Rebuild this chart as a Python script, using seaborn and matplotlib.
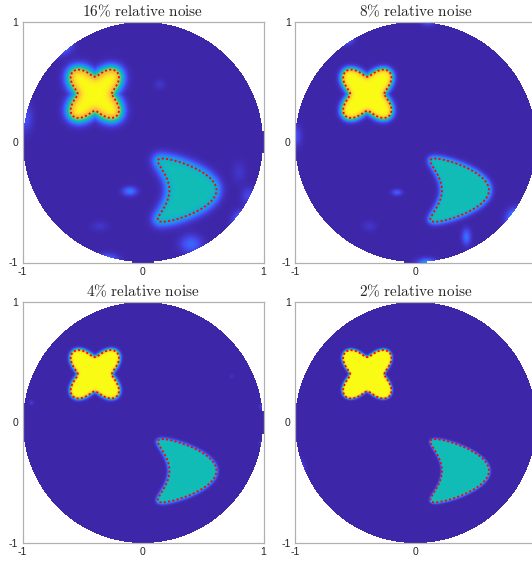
import matplotlib
matplotlib.use('Agg')
import matplotlib.pyplot as plt
import numpy as np
import pandas as pd
import seaborn as sns
from matplotlib.colors import LinearSegmentedColormap
from matplotlib.path import Path

# panels, in reading order
titles = ['16% relative noise', '8% relative noise', '4% relative noise', '2% relative noise']
blur = [0.020, 0.012, 0.007, 0.005]          # width of the smeared edge of each reconstruction

# star inclusion (yellow): centre, mean radius, arm amplitude, value
star_centre = (-0.40, 0.40)
star_r0 = 0.200
star_amp = 0.058
star_value = 1.0

# kite inclusion (teal): centre, x/y scale, value
kite_centre = (0.385, -0.40)
kite_scale = (0.195, 0.175)
kite_value = 0.5

# noise artefacts: x, y, sigma_x, sigma_y, amplitude
blobs = [
    [(-0.11, -0.41, 0.040, 0.025, 0.22), (0.40, -0.85, 0.06, 0.05, 0.18),
     (-0.70, 0.82, 0.06, 0.05, 0.45), (-0.30, -1.00, 0.06, 0.04, 0.30),
     (0.84, -0.66, 0.05, 0.05, 0.40), (0.14, 0.48, 0.03, 0.03, 0.05),
     (0.80, -0.25, 0.04, 0.06, 0.05), (-0.98, 0.20, 0.04, 0.08, 0.12),
     (-0.36, -0.70, 0.05, 0.03, 0.05), (0.88, -0.45, 0.04, 0.05, 0.10)],
    [(-0.15, -0.42, 0.030, 0.018, 0.15), (0.42, -0.79, 0.025, 0.045, 0.20),
     (0.84, -0.64, 0.05, 0.05, 0.45), (-0.58, 0.86, 0.04, 0.03, 0.28),
     (0.09, -1.02, 0.05, 0.03, 0.40), (0.10, 1.02, 0.04, 0.03, 0.20),
     (-0.99, 0.05, 0.03, 0.06, 0.12), (-0.38, -0.70, 0.04, 0.03, 0.05)],
    [(-0.93, 0.16, 0.015, 0.015, 0.06), (0.99, 0.13, 0.015, 0.015, 0.08),
     (0.99, -0.17, 0.015, 0.015, 0.08), (0.74, 0.38, 0.012, 0.012, 0.04)],
    [(-0.98, -0.40, 0.03, 0.05, 0.45)],
]

parula_stops = [
    (0.00, (0.242, 0.150, 0.660)), (0.10, (0.275, 0.270, 0.925)),
    (0.20, (0.190, 0.450, 0.985)), (0.30, (0.120, 0.580, 0.905)),
    (0.40, (0.060, 0.670, 0.835)), (0.50, (0.070, 0.740, 0.710)),
    (0.60, (0.260, 0.780, 0.530)), (0.70, (0.560, 0.790, 0.340)),
    (0.80, (0.830, 0.760, 0.240)), (0.90, (0.990, 0.740, 0.230)),
    (1.00, (0.977, 0.984, 0.081)),
]
parula = LinearSegmentedColormap.from_list('parula', parula_stops)

N = 240
xs = (np.arange(N) + 0.5) / N * 2 - 1
X, Y = np.meshgrid(xs, -xs)          # row 0 is the top (y = +1)
disk = X ** 2 + Y ** 2 <= 1.0

t = np.linspace(0, 2 * np.pi, 400)
rs = star_r0 - star_amp * np.cos(4 * t)
star_x = star_centre[0] + rs * np.cos(t)
star_y = star_centre[1] + rs * np.sin(t)
kite_x = kite_centre[0] + kite_scale[0] * (np.cos(t) + 0.65 * np.cos(2 * t) - 0.65 + 0.15)
kite_y = kite_centre[1] + kite_scale[1] * 1.5 * np.sin(t)


def signed_dist(bx, by):
    pts = np.column_stack([X.ravel(), Y.ravel()])
    inside = Path(np.column_stack([bx, by])).contains_points(pts).reshape(X.shape)
    d = np.full(X.shape, np.inf)
    for px, py in zip(bx, by):
        d = np.minimum(d, np.hypot(X - px, Y - py))
    return np.where(inside, -d, d)


sd_star = signed_dist(star_x, star_y)
sd_kite = signed_dist(kite_x, kite_y)


def to_cells(x, y):
    return (x + 1) / 2 * N, (1 - y) / 2 * N


sns.set_style('white')
plt.rcParams['font.family'] = ['Liberation Sans', 'DejaVu Sans']
plt.rcParams['mathtext.fontset'] = 'cm'

fig = plt.figure(figsize=(5.32, 5.61), dpi=100)
W, H = 532, 561
lefts = [22.5, 295.0]
tops = [21.5, 302.0]
size = 241.0

for k in range(4):
    ax = fig.add_axes([lefts[k % 2] / W, (H - tops[k // 2] - size) / H, size / W, size / H])
    w = blur[k]
    field = (star_value / (1 + np.exp((sd_star - 1.2 * w) / w))
             + kite_value / (1 + np.exp((sd_kite - 1.2 * w) / w)))
    for bx, by, sx, sy, a in blobs[k]:
        field += a * np.exp(-0.5 * (((X - bx) / sx) ** 2 + ((Y - by) / sy) ** 2))
    df = pd.DataFrame(np.clip(field, 0, 1))
    sns.heatmap(df, mask=~disk, cmap=parula, vmin=0, vmax=1, cbar=False, ax=ax,
                xticklabels=False, yticklabels=False, square=False)
    for bx, by in [(star_x, star_y), (kite_x, kite_y)]:
        cx, cy = to_cells(bx, by)
        ax.plot(cx, cy, color='red', lw=1.3, linestyle=(0, (1.1, 1.3)))
    ax.set_xlim(0, N)
    ax.set_ylim(N, 0)
    if k % 2 == 0:
        ax.set_xticks([0, N / 2, N])
        ax.set_xticklabels(['-1', '0', '1'], rotation=0)
    else:
        ax.set_xticks([0, N / 2])
        ax.set_xticklabels(['-1', '0'], rotation=0)
    ax.set_yticks([N, N / 2, 0])
    ax.set_yticklabels(['-1', '0', '1'], rotation=0)
    ax.tick_params(length=0, labelsize=7.5, labelcolor='#262626', pad=3)
    for s in ax.spines.values():
        s.set_visible(True)
        s.set_color('#b0b0b0')
        s.set_linewidth(0.9)
    txt = titles[k].replace('%', r'\%').replace(' ', r'\ ')
    ax.set_title(r'$\mathrm{' + txt + '}$', fontsize=11, pad=4)

fig.savefig('out.png', dpi=100)
